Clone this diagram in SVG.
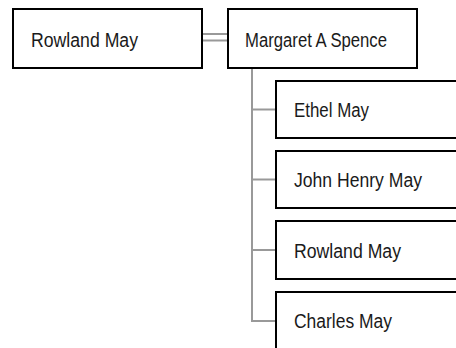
<svg xmlns="http://www.w3.org/2000/svg" width="456" height="348" viewBox="0 0 456 348">
<style>
.box{fill:#fff;stroke:#000;stroke-width:2}
.lbl{font-family:"Liberation Sans",Arial,sans-serif;font-size:20px;fill:#1a1a1a}
.con{fill:none;stroke:#999;stroke-width:2}
</style>
<rect width="456" height="348" fill="#fff"/>
<g id="connectors">
<line class="con" x1="202" y1="34" x2="228" y2="34"/>
<line class="con" x1="202" y1="40.5" x2="228" y2="40.5"/>
<polyline class="con" points="252,68 252,321 276,321"/>
<line class="con" x1="252" y1="109.5" x2="276" y2="109.5"/>
<line class="con" x1="252" y1="179.5" x2="276" y2="179.5"/>
<line class="con" x1="252" y1="250" x2="276" y2="250"/>
</g>
<g id="n1"><rect class="box" x="13" y="9" width="189" height="59"/><text class="lbl" x="31" y="46.5" textLength="107" lengthAdjust="spacingAndGlyphs">Rowland May</text></g>
<g id="n2"><rect class="box" x="228" y="9" width="189" height="59"/><text class="lbl" x="245" y="46.5" textLength="142" lengthAdjust="spacingAndGlyphs">Margaret A Spence</text></g>
<g id="c1"><rect class="box" x="276" y="81" width="200" height="57"/><text class="lbl" x="294" y="116.5" textLength="75" lengthAdjust="spacingAndGlyphs">Ethel May</text></g>
<g id="c2"><rect class="box" x="276" y="151" width="200" height="57"/><text class="lbl" x="294" y="187" textLength="128" lengthAdjust="spacingAndGlyphs">John Henry May</text></g>
<g id="c3"><rect class="box" x="276" y="221" width="200" height="58"/><text class="lbl" x="294" y="257.5" textLength="107" lengthAdjust="spacingAndGlyphs">Rowland May</text></g>
<g id="c4"><rect class="box" x="276" y="292" width="200" height="60"/><text class="lbl" x="294" y="328" textLength="98" lengthAdjust="spacingAndGlyphs">Charles May</text></g>
</svg>
